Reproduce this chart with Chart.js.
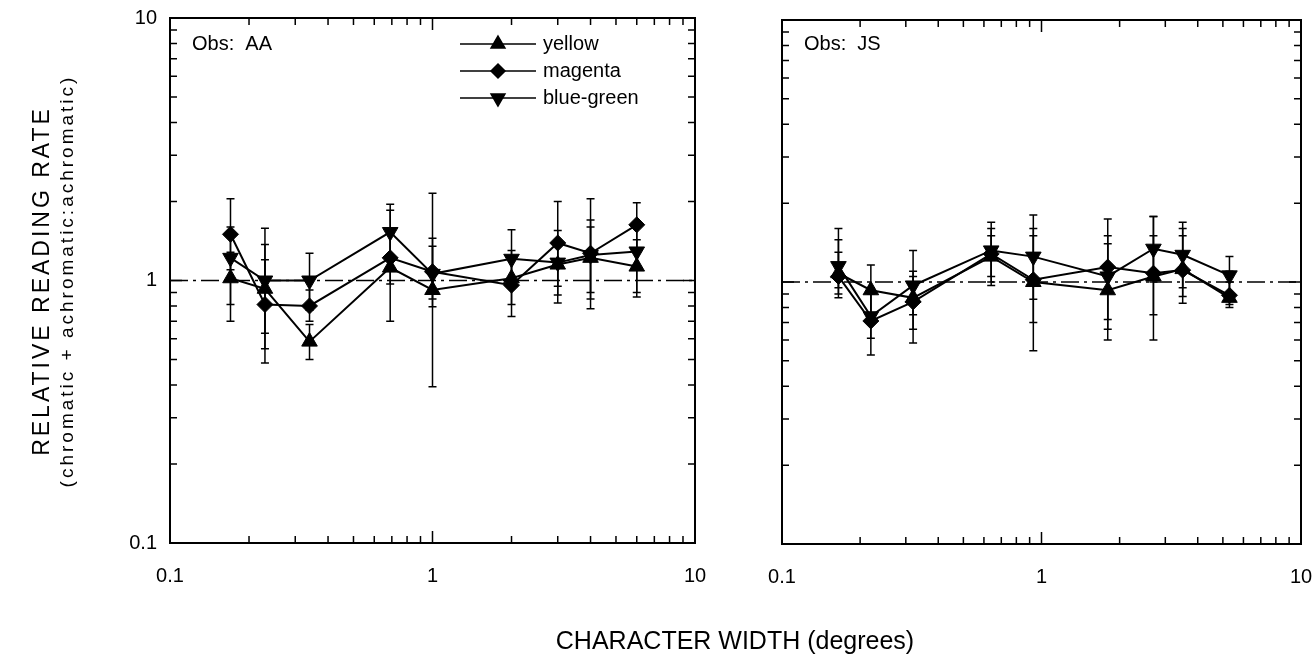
<!DOCTYPE html>
<html>
<head>
<meta charset="utf-8">
<script src="https://cdn.jsdelivr.net/npm/chart.js@4.4.0/dist/chart.umd.min.js"></script>
<style>
  body { margin: 0; background: #fff; width: 1316px; height: 657px; overflow: hidden; position: relative;
         font-family: "Liberation Sans", Arial, sans-serif; color: #000; }
  #left { position: absolute; left: 0; top: 0; }
  #right { position: absolute; left: 720px; top: 0; }
  .vtitle { position: absolute; top: 281px; white-space: nowrap; transform: translate(-50%, -50%) rotate(-90deg); }
  #xtitle { position: absolute; left: 735px; top: 640px; transform: translate(-50%, -50%); font-size: 25px; white-space: nowrap; }
</style>
</head>
<body>
<canvas id="left" width="720" height="657"></canvas>
<canvas id="right" width="596" height="657"></canvas>
<div class="vtitle" style="left:41px;font-size:23px;letter-spacing:3px;">RELATIVE READING RATE</div>
<div class="vtitle" style="left:67px;font-size:19px;letter-spacing:3px;">(chromatic + achromatic:achromatic)</div>
<div id="xtitle">CHARACTER WIDTH (degrees)</div>
<script>
// valores
const aaWidths = [0.17, 0.23, 0.34, 0.69, 1, 2, 3, 4, 6];
const jsWidths = [0.165, 0.22, 0.32, 0.64, 0.93, 1.8, 2.7, 3.5, 5.3];

const tickValues = [0.1, 0.2, 0.3, 0.4, 0.5, 0.6, 0.7, 0.8, 0.9, 1, 2, 3, 4, 5, 6, 7, 8, 9, 10];
const majorTicks = [0.1, 1, 10];
const majorLabels = ['0.1', '1', '10'];

const seriesNames = ['yellow', 'magenta', 'blue-green'];

// Obs: AA
const aaYellow      = [1.02, 0.93, 0.585, 1.12, 0.92, 1.02, 1.15, 1.22, 1.13];
const aaYellowLow   = [0.81, 0.55, 0.50, 0.70, 0.394, 0.81, 0.82, 0.85, 0.865];
const aaYellowHigh  = [1.28, 1.37, 0.68, 1.50, 2.15, 1.30, 1.40, 1.70, 1.43];
const aaMagenta     = [1.50, 0.81, 0.80, 1.22, 1.08, 0.96, 1.39, 1.27, 1.63];
const aaMagentaLow  = [1.10, 0.485, 0.70, 0.97, 0.795, 0.73, 0.95, 0.78, 1.30];
const aaMagentaHigh = [2.05, 1.20, 0.92, 1.85, 1.45, 1.20, 2.00, 2.05, 1.98];
const aaBlue        = [1.22, 1.00, 1.00, 1.53, 1.06, 1.21, 1.17, 1.25, 1.29];
const aaBlueLow     = [0.70, 0.63, 0.77, 1.20, 0.85, 0.95, 0.88, 0.90, 0.90];
const aaBlueHigh    = [1.60, 1.58, 1.27, 1.95, 1.35, 1.56, 1.55, 1.60, 1.60];

// Obs: JS
const jsYellow      = [1.08, 0.93, 0.87, 1.25, 1.00, 0.93, 1.05, 1.12, 0.87];
const jsYellowLow   = [0.90, 0.75, 0.66, 0.97, 0.547, 0.60, 0.60, 0.83, 0.80];
const jsYellowHigh  = [1.30, 1.16, 1.10, 1.50, 1.80, 1.40, 1.50, 1.60, 1.10];
const jsMagenta     = [1.05, 0.71, 0.84, 1.28, 1.02, 1.14, 1.08, 1.11, 0.89];
const jsMagentaLow  = [0.87, 0.527, 0.585, 1.00, 0.70, 0.72, 0.75, 0.88, 0.82];
const jsMagentaHigh = [1.45, 0.90, 1.05, 1.60, 1.50, 1.74, 1.78, 1.50, 1.00];
const jsBlue        = [1.15, 0.74, 0.97, 1.32, 1.25, 1.05, 1.34, 1.27, 1.06];
const jsBlueLow     = [0.95, 0.61, 0.75, 1.05, 0.86, 0.66, 1.00, 0.95, 0.90];
const jsBlueHigh    = [1.60, 0.95, 1.32, 1.69, 1.60, 1.50, 1.78, 1.69, 1.25];

const refValue = 1;

Chart.defaults.font.family = '"Liberation Sans", Arial, sans-serif';
Chart.defaults.color = '#000';

// moldura com marcas de escala para dentro nos 4 lados
const frameTicks = {
  id: 'frameTicks',
  beforeDatasetsDraw(chart) {
    const { ctx, chartArea: a, scales: { x, y } } = chart;
    ctx.save();
    ctx.strokeStyle = '#000';
    ctx.lineWidth = 2;
    ctx.strokeRect(a.left, a.top, a.right - a.left, a.bottom - a.top);
    ctx.lineWidth = 1.5;
    tickValues.forEach(v => {
      if (v === 0.1 || v === 10) return;
      const len = majorTicks.includes(v) ? 12 : 7;
      const px = x.getPixelForValue(v);
      const py = y.getPixelForValue(v);
      ctx.beginPath();
      ctx.moveTo(px, a.bottom); ctx.lineTo(px, a.bottom - len);
      ctx.moveTo(px, a.top); ctx.lineTo(px, a.top + len);
      ctx.moveTo(a.left, py); ctx.lineTo(a.left + len, py);
      ctx.moveTo(a.right, py); ctx.lineTo(a.right - len, py);
      ctx.stroke();
    });
    // linha de referência tracejada em 1
    const ry = y.getPixelForValue(refValue);
    ctx.setLineDash([18, 5, 3, 5]);
    ctx.beginPath();
    ctx.moveTo(a.left, ry); ctx.lineTo(a.right, ry);
    ctx.stroke();
    ctx.setLineDash([]);

    // barras de erro
    chart.data.datasets.forEach(ds => {
      ds.data.forEach((p, i) => {
        const px = x.getPixelForValue(p.x);
        const lo = y.getPixelForValue(ds.errLow[i]);
        const hi = y.getPixelForValue(ds.errHigh[i]);
        ctx.beginPath();
        ctx.moveTo(px, lo); ctx.lineTo(px, hi);
        ctx.moveTo(px - 4, lo); ctx.lineTo(px + 4, lo);
        ctx.moveTo(px - 4, hi); ctx.lineTo(px + 4, hi);
        ctx.stroke();
      });
    });
    ctx.restore();
  }
};

// texto "Obs" e legenda dentro da área
const innerLegend = {
  id: 'innerLegend',
  afterDraw(chart, args, opts) {
    const { ctx, chartArea: a } = chart;
    ctx.save();
    ctx.fillStyle = '#000';
    ctx.font = '20px "Liberation Sans", Arial, sans-serif';
    ctx.textBaseline = 'middle';
    ctx.fillText(opts.obs, a.left + 22, opts.y);
    if (opts.legend) {
      chart.data.datasets.forEach((ds, i) => {
        const ly = opts.y + i * opts.dy;
        ctx.strokeStyle = '#000';
        ctx.lineWidth = 1.5;
        ctx.beginPath();
        ctx.moveTo(opts.x, ly); ctx.lineTo(opts.x + 76, ly);
        ctx.stroke();
        Chart.helpers.drawPoint(ctx, { pointStyle: ds.pointStyle, rotation: ds.pointRotation, radius: ds.pointRadius - 1, borderWidth: 1 }, opts.x + 38, ly);
        ctx.fillText(ds.label, opts.x + 83, ly);
      });
    }
    ctx.restore();
  }
};

function makeDataset(label, widths, values, low, high, style, rotation) {
  return {
    label: label,
    data: widths.map((w, i) => ({ x: w, y: values[i] })),
    errLow: low,
    errHigh: high,
    borderColor: '#000',
    backgroundColor: '#000',
    borderWidth: 2,
    pointStyle: style,
    pointRotation: rotation,
    pointRadius: style === 'rectRot' ? 8 : 9,
    pointBackgroundColor: '#000',
    pointBorderColor: '#000',
    pointBorderWidth: 1,
    showLine: true,
    tension: 0
  };
}

function logAxis(showLabels, tickLen, fitSize, horizontal) {
  return {
    type: 'logarithmic',
    min: 0.1,
    max: 10,
    afterBuildTicks: scale => {
      scale.ticks = tickValues.map(v => ({ value: v, major: majorTicks.includes(v) }));
    },
    afterFit: scale => {
      if (horizontal) scale.height = fitSize; else scale.width = fitSize;
    },
    grid: { display: false, drawTicks: true, tickLength: tickLen },
    border: { display: false },
    ticks: {
      display: showLabels,
      autoSkip: false,
      maxRotation: 0,
      padding: 2,
      font: { size: 20 },
      color: '#000',
      callback: v => {
        const i = majorTicks.indexOf(v);
        return i >= 0 ? majorLabels[i] : '';
      }
    }
  };
}

function makePanel(id, obs, sets, showY, showLegend, padding, yWidth) {
  new Chart(document.getElementById(id), {
    type: 'scatter',
    data: { datasets: sets },
    options: {
      responsive: false,
      animation: false,
      layout: { padding: padding },
      scales: {
        x: logAxis(true, 19, 50, true),
        y: logAxis(showY, 11, yWidth, false)
      },
      plugins: {
        legend: { display: false },
        tooltip: { enabled: false },
        innerLegend: { obs: obs, legend: showLegend, x: 460, y: 44, dy: 27 }
      }
    },
    plugins: [frameTicks, innerLegend]
  });
}

makePanel('left', 'Obs:  AA', [
  makeDataset(seriesNames[0], aaWidths, aaYellow, aaYellowLow, aaYellowHigh, 'triangle', 0),
  makeDataset(seriesNames[1], aaWidths, aaMagenta, aaMagentaLow, aaMagentaHigh, 'rectRot', 0),
  makeDataset(seriesNames[2], aaWidths, aaBlue, aaBlueLow, aaBlueHigh, 'triangle', 180)
], true, true, { left: 110, right: 25, top: 18, bottom: 64 }, 60);

makePanel('right', 'Obs:  JS', [
  makeDataset(seriesNames[0], jsWidths, jsYellow, jsYellowLow, jsYellowHigh, 'triangle', 0),
  makeDataset(seriesNames[1], jsWidths, jsMagenta, jsMagentaLow, jsMagentaHigh, 'rectRot', 0),
  makeDataset(seriesNames[2], jsWidths, jsBlue, jsBlueLow, jsBlueHigh, 'triangle', 180)
], false, false, { left: 42, right: 15, top: 20, bottom: 63 }, 20);
</script>
</body>
</html>
